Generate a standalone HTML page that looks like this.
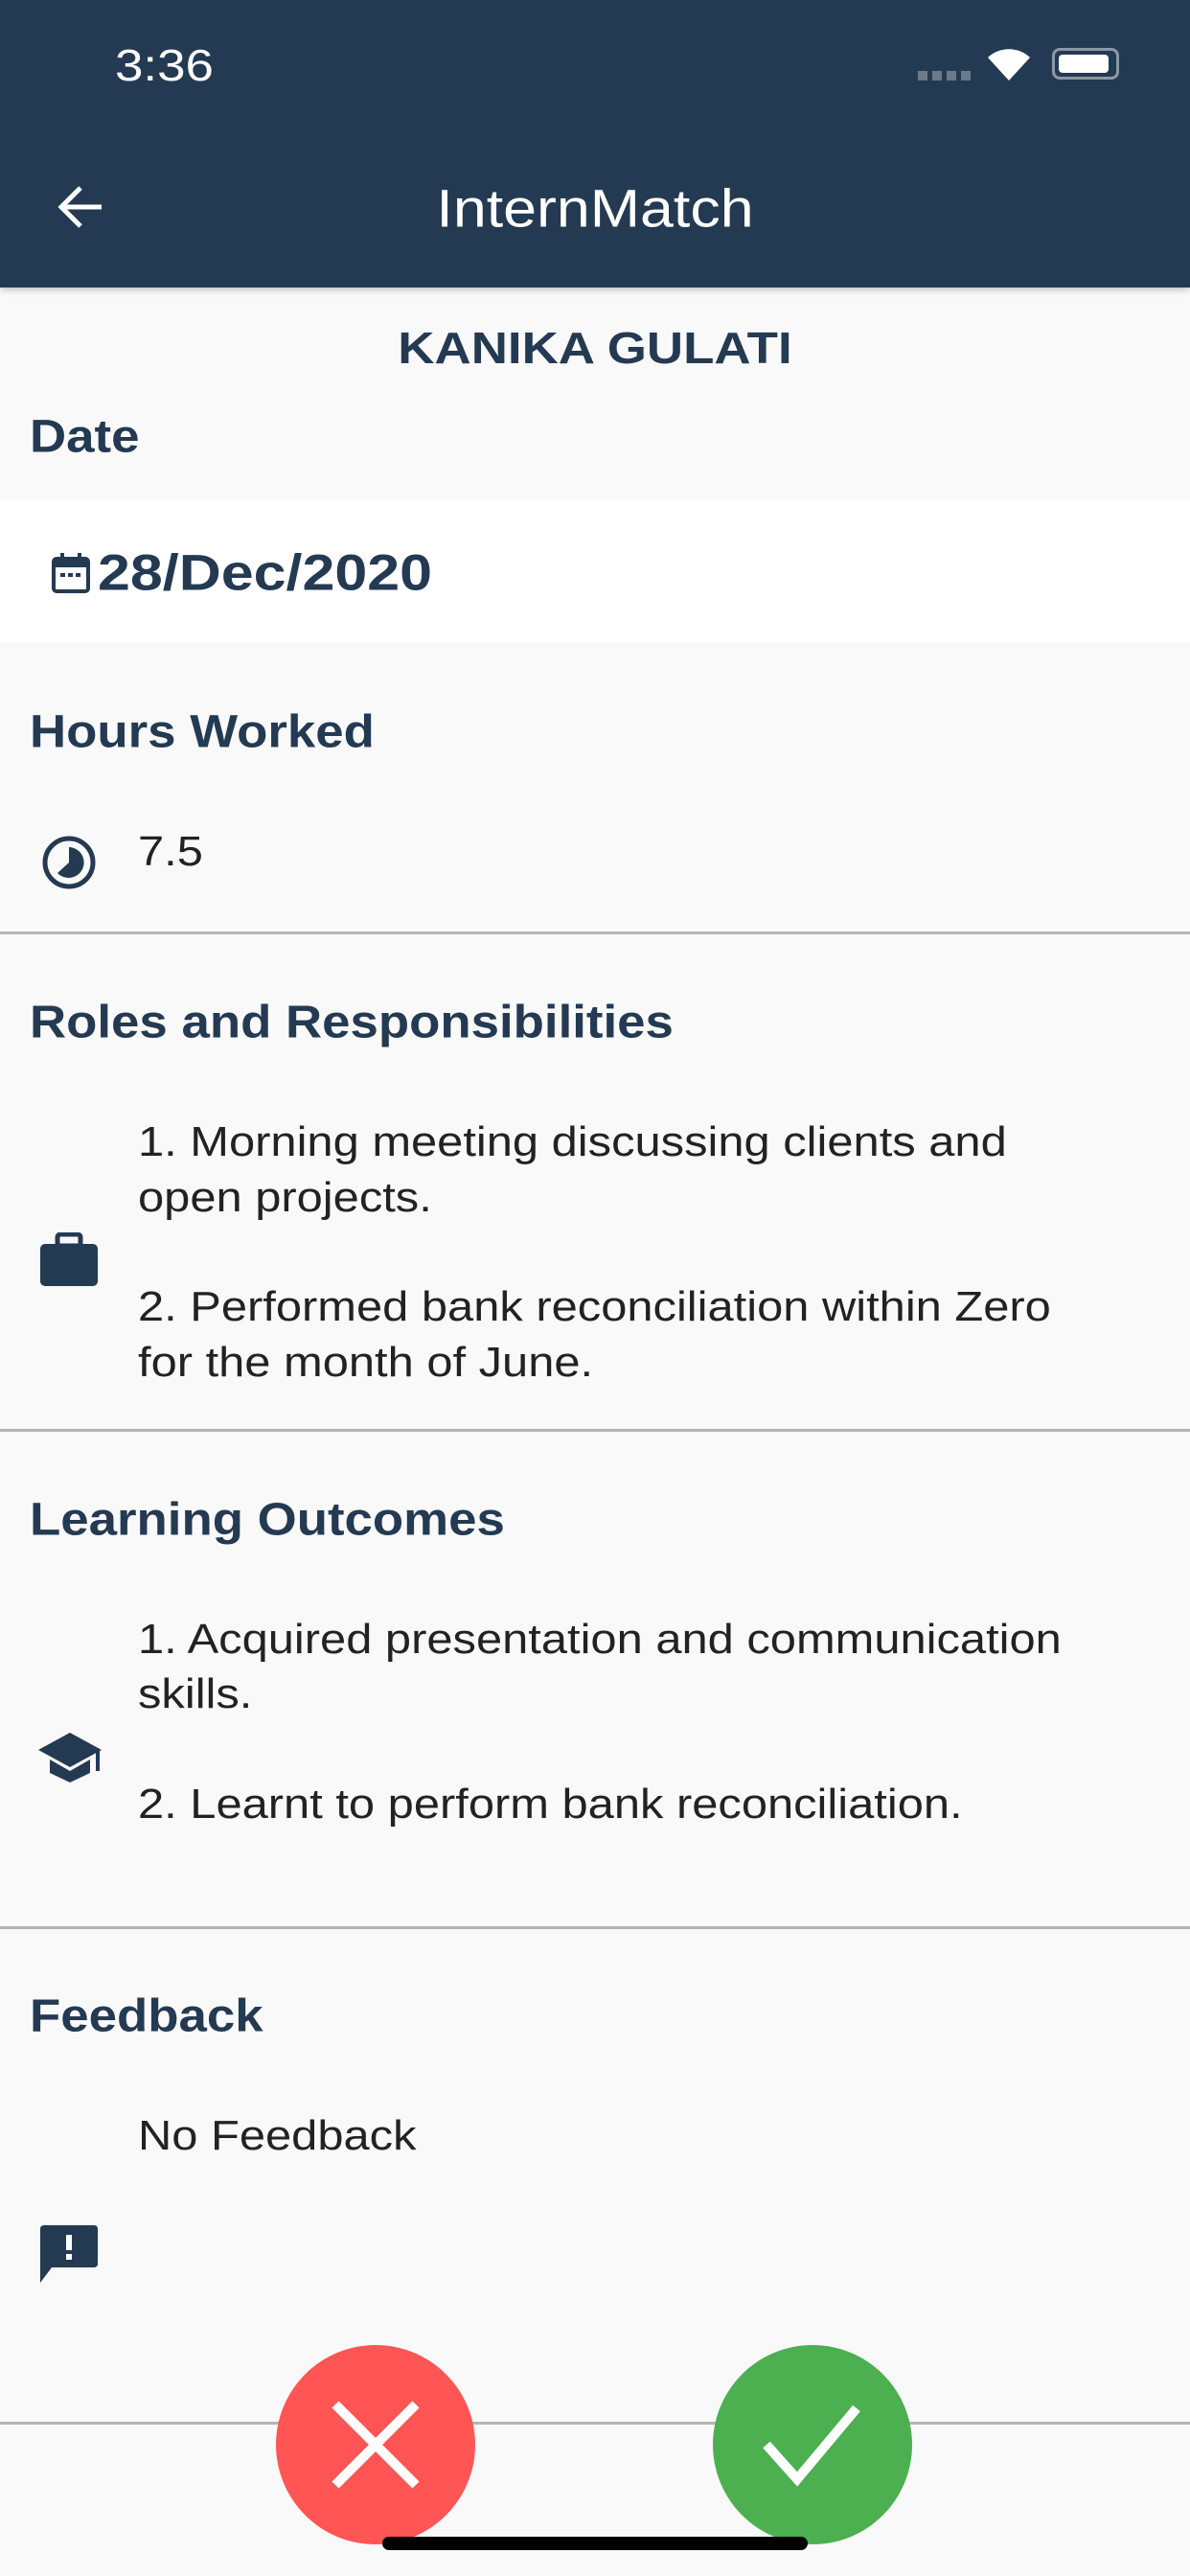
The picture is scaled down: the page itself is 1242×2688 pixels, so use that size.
<!DOCTYPE html>
<html><head><meta charset="utf-8">
<style>
body{margin:0;width:1242px;height:2688px;background:#f9f9f9;font-family:"Liberation Sans",sans-serif;position:relative;overflow:hidden;color:#243a52}
.a{position:absolute;white-space:nowrap}
.h{font-weight:bold;font-size:48px;left:31px;transform:translateY(-50%) scaleX(1.1);transform-origin:left center}
.t{font-size:44px;color:#222;left:144px;transform:translateY(-50%) scaleX(1.11);transform-origin:left center}
.d{position:absolute;left:0;width:1242px;height:3px;background:#b5b5b5}
</style></head><body>
<div class="a" style="left:0;top:0;width:1242px;height:300px;background:#243a52;box-shadow:0 3px 6px rgba(0,0,0,.2)"></div>
<div class="a" style="left:120px;top:68px;transform:translateY(-50%) scaleX(1.15);transform-origin:left center;color:#fff;font-size:46px">3:36</div>
<div class="a" style="left:958px;top:74px;width:56px;height:10px;background:repeating-linear-gradient(90deg,#6b7a8a 0 10px,transparent 10px 15px)"></div>
<svg class="a" style="left:1030px;top:48px" width="46" height="38" viewBox="0 0 46 38"><path d="M23 36 L1 12 A32 32 0 0 1 45 12 Z" fill="#fff"/></svg>
<div class="a" style="left:1098px;top:50px;width:70px;height:33px;border:3px solid #8a98a6;border-radius:8px;box-sizing:border-box"><div style="margin:4px;height:19px;width:52px;background:#fff;border-radius:4px"></div></div>
<svg class="a" style="left:60px;top:192px" width="50" height="48" viewBox="0 0 50 48"><path d="M46 24 H6 M24 4 L4 24 L24 44" stroke="#fff" stroke-width="5" fill="none"/></svg>
<div class="a" style="left:0;width:1242px;text-align:center;top:217px;transform:translateY(-50%) scaleX(1.12);color:#fff;font-size:56px">InternMatch</div>
<div class="a" style="left:0;width:1242px;text-align:center;top:363px;transform:translateY(-50%) scaleX(1.15);font-weight:bold;font-size:46px">KANIKA GULATI</div>
<div class="a h" style="top:456px">Date</div>
<div class="a" style="left:0;top:521px;width:1242px;height:149px;background:#fff"></div>
<svg class="a" style="left:54px;top:577px" width="40" height="42" viewBox="0 0 40 42"><rect x="2" y="6" width="36" height="34" rx="3" fill="none" stroke="#243a52" stroke-width="4"/><rect x="2" y="6" width="36" height="9" fill="#243a52"/><rect x="9" y="0" width="4" height="9" fill="#243a52"/><rect x="27" y="0" width="4" height="9" fill="#243a52"/><rect x="9" y="21" width="5" height="4" fill="#243a52"/><rect x="17" y="21" width="5" height="4" fill="#243a52"/><rect x="25" y="21" width="5" height="4" fill="#243a52"/></svg>
<div class="a" style="left:102px;top:598px;transform:translateY(-50%) scaleX(1.15);transform-origin:left center;font-weight:bold;font-size:53px">28/Dec/2020</div>
<div class="a h" style="top:764px">Hours Worked</div>
<svg class="a" style="left:42px;top:870px" width="60" height="60" viewBox="0 0 60 60"><circle cx="30" cy="30" r="25" fill="none" stroke="#243a52" stroke-width="5"/><path d="M30 30 V14 A16 16 0 1 1 18 41 Z" fill="#243a52"/></svg>
<div class="a t" style="top:889px">7.5</div>
<div class="d" style="top:972px"></div>
<div class="a h" style="top:1067px">Roles and Responsibilities</div>
<svg class="a" style="left:40px;top:1286px" width="64" height="58" viewBox="0 0 64 58"><rect x="20" y="2" width="24" height="12" rx="3" fill="none" stroke="#243a52" stroke-width="5"/><rect x="2" y="12" width="60" height="44" rx="5" fill="#243a52"/></svg>
<div class="a t" style="top:1192px">1. Morning meeting discussing clients and</div>
<div class="a t" style="top:1250px">open projects.</div>
<div class="a t" style="top:1364px">2. Performed bank reconciliation within Zero</div>
<div class="a t" style="top:1422px">for the month of June.</div>
<div class="d" style="top:1491px"></div>
<div class="a h" style="top:1586px">Learning Outcomes</div>
<svg class="a" style="left:38px;top:1806px" width="70" height="56" viewBox="0 0 70 56"><path d="M35 2 L68 20 L35 38 L2 20 Z" fill="#243a52"/><path d="M14 30 V44 L35 54 L56 44 V30 L35 42 Z" fill="#243a52"/><rect x="62" y="20" width="4" height="22" fill="#243a52"/></svg>
<div class="a t" style="top:1711px">1. Acquired presentation and communication</div>
<div class="a t" style="top:1768px">skills.</div>
<div class="a t" style="top:1883px">2. Learnt to perform bank reconciliation.</div>
<div class="d" style="top:2010px"></div>
<div class="a h" style="top:2104px">Feedback</div>
<div class="a t" style="top:2229px">No Feedback</div>
<svg class="a" style="left:40px;top:2320px" width="64" height="64" viewBox="0 0 64 64"><path d="M6 2 H58 Q62 2 62 6 V42 Q62 46 58 46 H14 L2 62 V6 Q2 2 6 2 Z" fill="#243a52"/><rect x="29" y="12" width="6" height="16" fill="#fff"/><rect x="29" y="32" width="6" height="6" fill="#fff"/></svg>
<div class="d" style="top:2527px"></div>
<div class="a" style="left:288px;top:2447px;width:208px;height:208px;border-radius:50%;background:#ff5555"><svg width="208" height="208" viewBox="0 0 208 208"><path d="M62 62 L146 146 M146 62 L62 146" stroke="#fff" stroke-width="10"/></svg></div>
<div class="a" style="left:744px;top:2447px;width:208px;height:208px;border-radius:50%;background:#4caf50"><svg width="208" height="208" viewBox="0 0 208 208"><path d="M56 104 L88 140 L150 66" stroke="#fff" stroke-width="10" fill="none"/></svg></div>
<div class="a" style="left:399px;top:2647px;width:444px;height:14px;background:#000;border-radius:7px"></div>
</body></html>
